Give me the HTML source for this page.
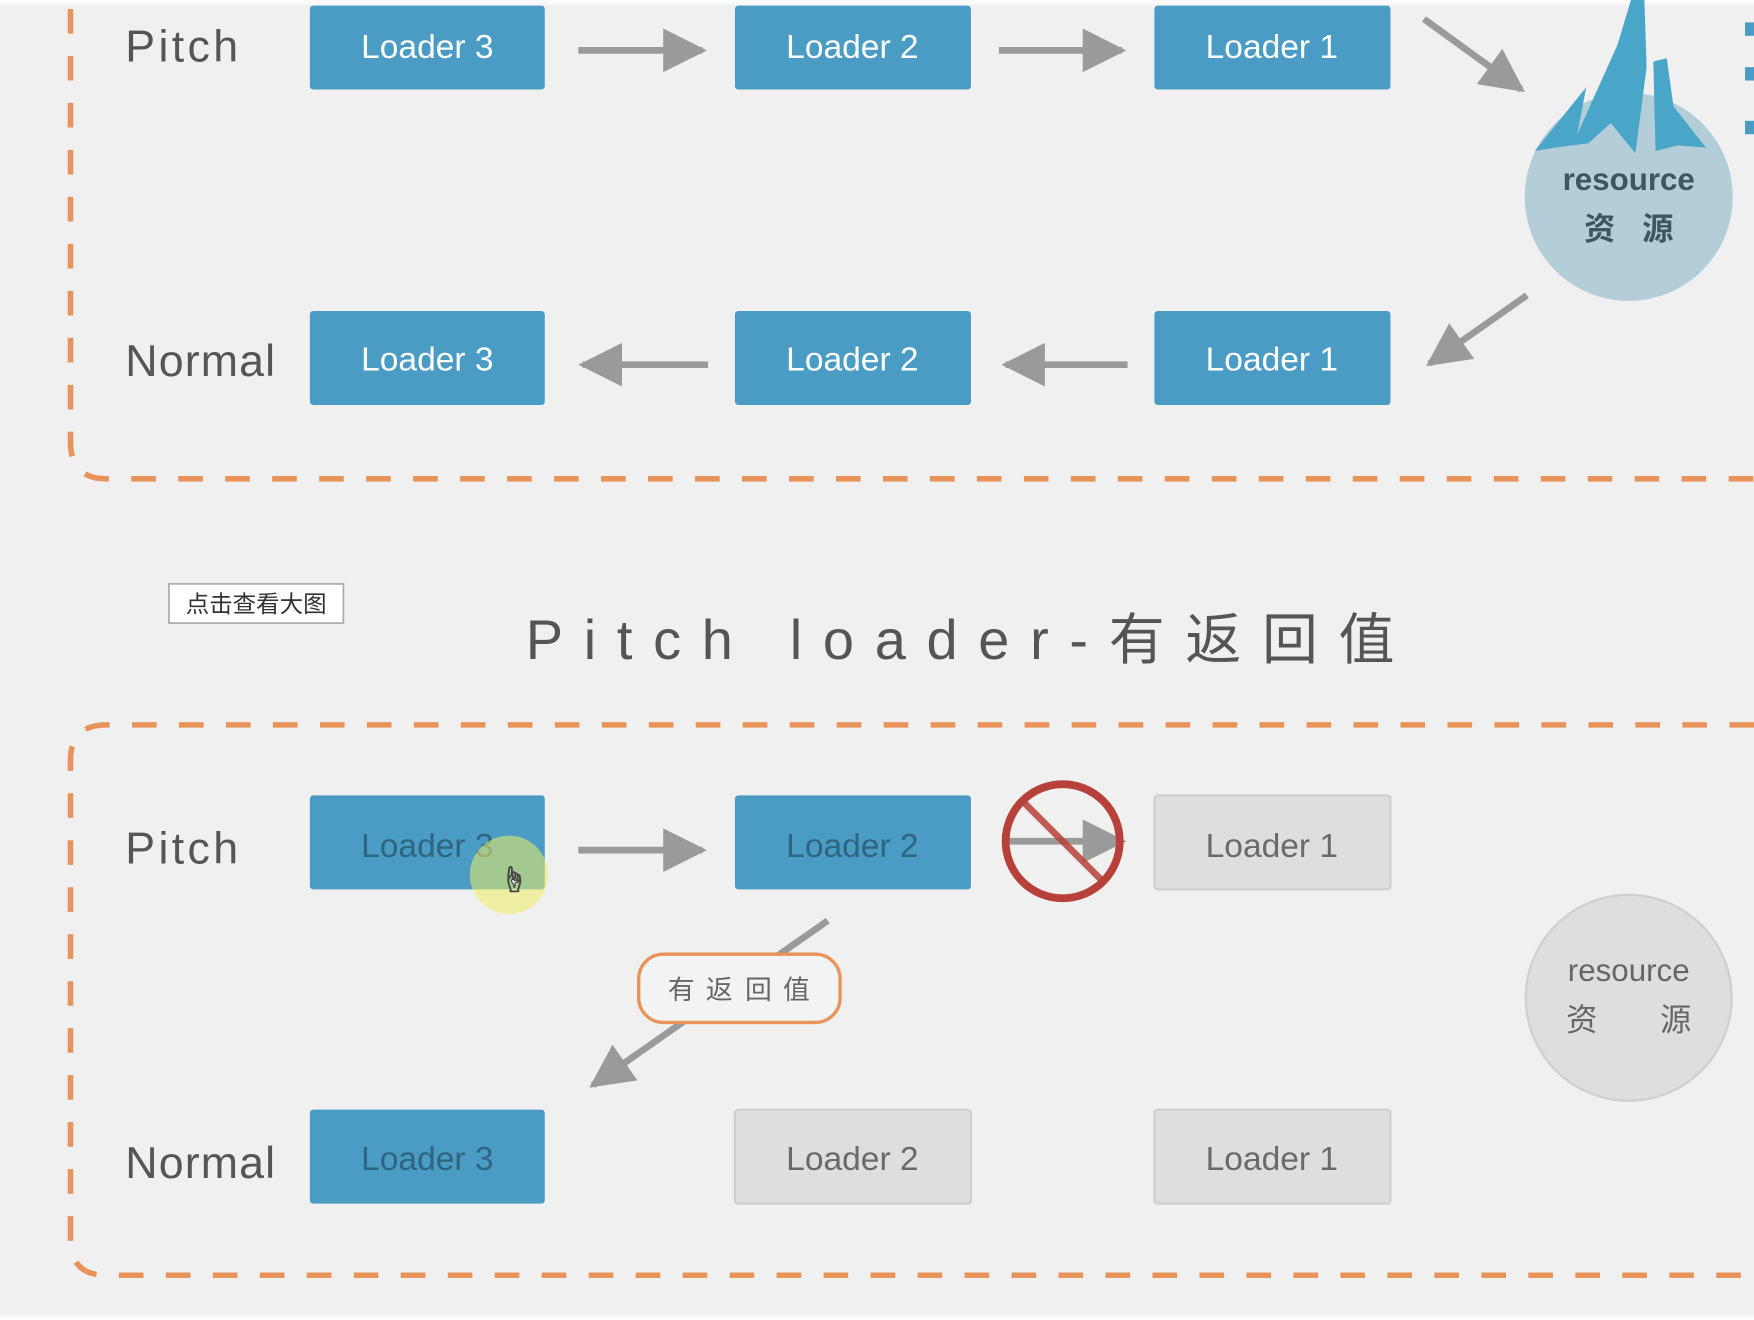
<!DOCTYPE html>
<html><head><meta charset="utf-8"><style>
html,body{margin:0;padding:0;background:#f0f0f0;}
svg{display:block;}
text{font-family:"Liberation Sans","Noto Sans CJK SC",sans-serif;}
</style></head><body>
<svg width="1754" height="1320" viewBox="0 0 1568 1180" xmlns="http://www.w3.org/2000/svg">
<defs>
<marker id="ah" viewBox="0 0 10 10" refX="9" refY="5" markerWidth="6.5" markerHeight="6.5" markerUnits="strokeWidth" orient="auto">
<path d="M0,0 L10,5 L0,10 z" fill="#9a9a9a"/></marker>
</defs>
<rect x="0" y="0" width="1568" height="1180" fill="#f0f0f0"/>
<rect x="0" y="0" width="1568" height="4" fill="#fafafa"/>
<rect x="0" y="1176" width="1568" height="4" fill="#fafafa"/>
<g fill="none" stroke="#e8935a" stroke-width="5" stroke-dasharray="22,20">
<path d="M63,8 L63,395 Q63,428 95,428 L1568,428"/>
<path d="M1568,648 L95,648 Q63,648 63,680 L63,1108 Q63,1140 95,1140 L1568,1140"/>
</g>
<rect x="1560" y="20" width="8" height="12" fill="#4a9cc4"/>
<rect x="1560" y="60" width="8" height="12" fill="#4a9cc4"/>
<rect x="1560" y="108" width="8" height="12" fill="#4a9cc4"/>
<g font-size="40" fill="#555">
<text x="112" y="55" letter-spacing="3">Pitch</text>
<text x="112" y="336" letter-spacing="1">Normal</text>
<text x="112" y="772" letter-spacing="3">Pitch</text>
<text x="112" y="1053" letter-spacing="1">Normal</text>
</g>
<g fill="#4a9cc4">
<rect x="277" y="5" width="210" height="75" rx="3"/>
<rect x="657" y="5" width="211" height="75" rx="3"/>
<rect x="1032" y="5" width="211" height="75" rx="3"/>
<rect x="277" y="278" width="210" height="84" rx="3"/>
<rect x="657" y="278" width="211" height="84" rx="3"/>
<rect x="1032" y="278" width="211" height="84" rx="3"/>
<rect x="277" y="711" width="210" height="84" rx="3"/>
<rect x="657" y="711" width="211" height="84" rx="3"/>
<rect x="277" y="992" width="210" height="84" rx="3"/>
</g>
<g fill="#dedede" stroke="#cfcfcf" stroke-width="2">
<rect x="1032" y="711" width="211" height="84" rx="3"/>
<rect x="657" y="992" width="211" height="84" rx="3"/>
<rect x="1032" y="992" width="211" height="84" rx="3"/>
</g>
<g font-size="30" text-anchor="middle" fill="#fff">
<text x="382" y="52">Loader 3</text>
<text x="762" y="52">Loader 2</text>
<text x="1137" y="52">Loader 1</text>
<text x="382" y="331">Loader 3</text>
<text x="762" y="331">Loader 2</text>
<text x="1137" y="331">Loader 1</text>
</g>
<g font-size="30" text-anchor="middle" fill="#2f6580">
<text x="382" y="766">Loader 3</text>
<text x="762" y="766">Loader 2</text>
<text x="382" y="1046">Loader 3</text>
</g>
<g font-size="30" text-anchor="middle" fill="#6a6a6a">
<text x="1137" y="766">Loader 1</text>
<text x="762" y="1046">Loader 2</text>
<text x="1137" y="1046">Loader 1</text>
</g>
<g stroke="#9a9a9a" stroke-width="6" fill="none" marker-end="url(#ah)">
<line x1="517" y1="45" x2="628" y2="45"/>
<line x1="893" y1="45" x2="1003" y2="45"/>
<line x1="1273" y1="17" x2="1360" y2="80"/>
<line x1="1365" y1="264" x2="1278" y2="325"/>
<line x1="633" y1="326" x2="521" y2="326"/>
<line x1="1008" y1="326" x2="899" y2="326"/>
<line x1="517" y1="760" x2="628" y2="760"/>
<line x1="740" y1="823" x2="530" y2="970"/>
<line x1="900" y1="752" x2="1003" y2="752"/>
</g>
<circle cx="950" cy="752" r="51" fill="none" stroke="#b8403a" stroke-width="7"/>
<line x1="914" y1="716" x2="986" y2="788" stroke="#b8403a" stroke-width="6" opacity="0.85"/>
<rect x="571" y="853" width="180" height="61" rx="22" fill="#f3f3f3" stroke="#e8935a" stroke-width="3"/>
<g font-size="24" fill="#666" text-anchor="middle">
<text x="609" y="893">有</text><text x="643" y="893">返</text><text x="678" y="893">回</text><text x="712" y="893">值</text>
</g>
<circle cx="455" cy="782" r="35" fill="#eeee66" opacity="0.55"/>
<text x="447" y="795" font-size="24" fill="#fff" stroke="#444" stroke-width="1">☝</text>
<circle cx="1456" cy="176" r="93" fill="#b3cdd9"/>
<path d="M1372,135 L1418,78 L1410,120 L1446,40 L1458,0 L1470,0 L1472,60 L1462,137 L1440,110 L1420,128 L1390,132 Z M1478,55 L1490,52 L1496,95 L1525,132 L1500,130 L1480,135 Z" fill="#4aa6c8"/>
<text x="1456" y="170" font-size="28" font-weight="bold" fill="#3e5562" text-anchor="middle">resource</text>
<text x="1430" y="214" font-size="28" font-weight="bold" fill="#3e5562" text-anchor="middle">资</text>
<text x="1482" y="214" font-size="28" font-weight="bold" fill="#3e5562" text-anchor="middle">源</text>
<circle cx="1456" cy="892" r="92" fill="#dedede" stroke="#cfcfcf" stroke-width="2"/>
<text x="1456" y="877" font-size="28" fill="#666" text-anchor="middle">resource</text>
<text x="1414" y="921" font-size="28" fill="#666" text-anchor="middle">资</text>
<text x="1498" y="921" font-size="28" fill="#666" text-anchor="middle">源</text>
<rect x="151" y="522" width="156" height="35" fill="#fff" stroke="#aaa" stroke-width="1.5"/>
<text x="229" y="547" font-size="21" fill="#333" text-anchor="middle">点击查看大图</text>
<text x="470" y="589" font-size="50" fill="#555" letter-spacing="18.5">Pitch loader-有返回值</text>
</svg>
</body></html>
